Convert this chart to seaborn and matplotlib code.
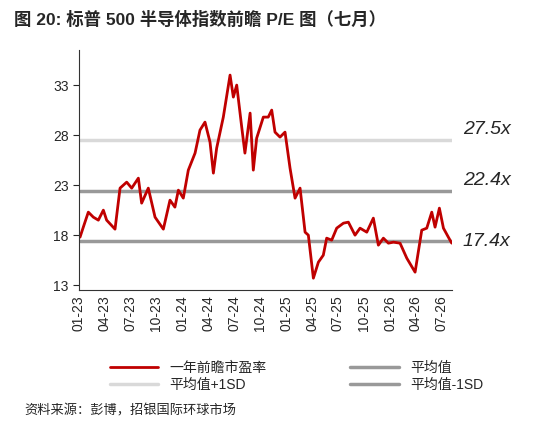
import pandas as pd
import seaborn as sns
import matplotlib.pyplot as plt

# months after 2023-01-01, forward P/E
month_offset = [0.12, 0.5, 1.08, 1.66, 2.24, 2.82, 3.2, 4.17, 4.75, 5.52, 6.1, 6.87, 7.25,
                8.02, 8.8, 9.76, 10.53, 11.1, 11.5, 12.07, 12.65, 13.43, 14.0, 14.58, 15.16,
                15.55, 15.93, 16.7, 17.48, 17.86, 18.25, 18.83, 19.2, 19.8, 20.17, 20.56,
                21.33, 21.9, 22.3, 22.68, 23.26, 23.84, 24.42, 25.0, 25.58, 26.16, 26.54,
                27.12, 27.7, 28.27, 28.66, 29.24, 29.82, 30.6, 31.17, 31.94, 32.52, 33.3,
                34.06, 34.64, 35.22, 35.8, 36.38, 37.15, 37.93, 38.89, 39.66, 40.24, 40.82,
                41.2, 41.7, 42.17, 42.74, 43.13]
pe = [17.8, 18.8, 20.3, 19.8, 19.5, 20.5, 19.5, 18.6, 22.7, 23.3, 22.7, 23.7, 21.2,
      22.7, 19.8, 18.6, 21.5, 20.8, 22.5, 21.7, 24.5, 26.2, 28.5, 29.3, 27.3,
      24.2, 26.7, 29.8, 34.0, 31.8, 33.0, 28.8, 26.2, 30.2, 24.5, 27.7,
      29.8, 29.8, 30.5, 28.3, 27.8, 28.3, 24.7, 21.7, 22.7, 18.3, 18.0,
      13.7, 15.3, 16.0, 17.7, 17.5, 18.7, 19.2, 19.3, 18.0, 18.7, 18.3,
      19.7, 17.0, 17.7, 17.2, 17.3, 17.2, 15.7, 14.3, 18.5, 18.7, 20.3,
      18.8, 20.7, 18.7, 17.8, 17.2]
mean_pe = 22.4
plus_sd = 27.5
minus_sd = 17.4
tick_labels = ['01-23', '04-23', '07-23', '10-23', '01-24', '04-24', '07-24', '10-24',
               '01-25', '04-25', '07-25', '10-25', '01-26', '04-26', '07-26']

start = pd.Timestamp('2023-01-01')
dates = [start + pd.Timedelta(days=m * 30.44) for m in month_offset]
df = pd.DataFrame({'date': dates, 'pe': pe})

sns.set_style('white')
plt.rcParams['font.family'] = ['Liberation Sans', 'Noto Sans CJK SC', 'DejaVu Sans']
plt.rcParams['axes.unicode_minus'] = False

fig = plt.figure(figsize=(5.41, 4.28), dpi=100)
ax = fig.add_axes([0.146, 0.322, 0.689, 0.561])

x0, x1 = df['date'].min(), df['date'].max()
ax.plot([x0, x1], [plus_sd] * 2, color='#d9d9d9', lw=2.5, label='平均值+1SD')
ax.plot([x0, x1], [mean_pe] * 2, color='#999999', lw=2.5, label='平均值')
ax.plot([x0, x1], [minus_sd] * 2, color='#999999', lw=2.5, label='平均值-1SD')
sns.lineplot(data=df, x='date', y='pe', color='#c00000', lw=2, ax=ax, label='一年前瞻市盈率')

ax.set_xlim(x0, x1)
ax.set_ylim(12.5, 36.5)
ax.set_yticks([13, 18, 23, 28, 33])
ticks = [start + pd.DateOffset(months=3 * i) for i in range(len(tick_labels))]
ax.set_xticks(ticks)
ax.set_xticklabels(tick_labels, rotation=90, fontsize=10)
ax.tick_params(axis='y', labelsize=10, length=4, direction='out', left=True)
ax.tick_params(axis='x', length=0)
ax.set_xlabel('')
ax.set_ylabel('')
for s in ['top', 'right']:
    ax.spines[s].set_visible(False)
ax.spines['left'].set_color('#333333')
ax.spines['bottom'].set_color('#333333')

for v, t in [(plus_sd, '27.5x'), (mean_pe, '22.4x'), (minus_sd, '17.4x')]:
    ax.text(1.03, v + 1.1 if v != minus_sd else v, t, transform=ax.get_yaxis_transform(),
            fontsize=14, style='italic', va='center')

h, l = ax.get_legend_handles_labels()
order = [3, 0, 1, 2]
fig.legend([h[i] for i in order], [l[i] for i in order], loc='upper left',
           bbox_to_anchor=(0.18, 0.185), ncol=2, frameon=False, fontsize=10,
           columnspacing=6, handlelength=3.5, labelspacing=0.2)
ax.get_legend().remove()

fig.text(0.025, 0.955, '图 20: 标普 500 半导体指数前瞻 P/E 图（七月）', fontsize=12.5,
         fontweight='bold', va='center')
fig.text(0.045, 0.04, '资料来源：彭博，招银国际环球市场', fontsize=9.5, va='center')

fig.savefig('out.png', dpi=100)
